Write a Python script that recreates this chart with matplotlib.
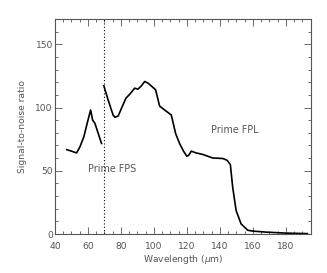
import matplotlib
matplotlib.use("Agg")
import matplotlib.pyplot as plt
from matplotlib.ticker import MultipleLocator

fps_wl = [47.1, 50.0, 53.1, 55.1, 57.5, 59.5, 61.6, 62.8, 64.2, 66.2, 68.2]
fps_snr = [66.7, 65.5, 64.1, 68.9, 76.9, 87.5, 98.1, 90.1, 87.5, 79.5, 71.6]

fpl_wl = [69.6, 72.2, 75.2, 76.3, 78.3, 80.3, 83.0, 85.3, 88.3, 90.3, 92.4, 94.4,
          96.4, 101.0, 103.4, 106.4, 110.5, 113.1, 115.5, 117.9, 119.9, 121.1,
          122.6, 125.6, 129.6, 135.6, 141.7, 144.3, 146.3, 147.7, 149.8, 152.8,
          156.8, 159.8, 167.8, 180.0, 193.0]
fpl_snr = [117.2, 106.0, 94.1, 92.3, 93.3, 99.4, 107.4, 110.5, 115.3, 114.5, 117.2,
           120.6, 119.3, 114.0, 101.2, 98.1, 94.1, 79.5, 71.6, 65.5, 61.5, 62.3,
           65.5, 64.1, 62.9, 60.1, 59.7, 58.3, 54.9, 37.1, 18.5, 8.0, 3.0, 2.3,
           1.5, 0.7, 0.3]

divider_wl = 70
labels = [("Prime FPS", 74.5, 51.5), ("Prime FPL", 148.8, 82.0)]

gray = "#555555"
fs = 6.6
fig = plt.figure(figsize=(3.27, 2.73), dpi=100)
ax = fig.add_axes([55/327, 1-234/273, (310.7-55)/327, (234-19)/273])
ax.plot(fps_wl, fps_snr, color="black", lw=1.2)
ax.plot(fpl_wl, fpl_snr, color="black", lw=1.2)
ax.axvline(divider_wl, color="black", lw=0.8, ls=(0, (1, 2)))
for t, x, y in labels:
    ax.text(x, y, t, ha="center", va="center", fontsize=fs + 0.3, color=gray)
ax.set_xlim(40, 195)
ax.set_ylim(0, 170)
ax.xaxis.set_major_locator(MultipleLocator(20))
ax.xaxis.set_minor_locator(MultipleLocator(5))
ax.yaxis.set_major_locator(MultipleLocator(50))
ax.yaxis.set_minor_locator(MultipleLocator(10))
ax.tick_params(which="both", direction="in", top=True, right=True, colors=gray,
               labelsize=fs, width=0.6)
ax.tick_params(axis="x", which="both", pad=6)
ax.tick_params(axis="y", which="both", pad=1.5)
ax.tick_params(which="major", length=5)
ax.tick_params(which="minor", length=2.5)
for s in ax.spines.values():
    s.set_color(gray)
    s.set_linewidth(0.8)
ax.set_xlabel("Wavelength ($\\mu$m)", fontsize=fs, color=gray, labelpad=1)
ax.set_ylabel("Signal-to-noise ratio", fontsize=fs, color=gray, labelpad=6)
fig.savefig("out.png", dpi=100)
